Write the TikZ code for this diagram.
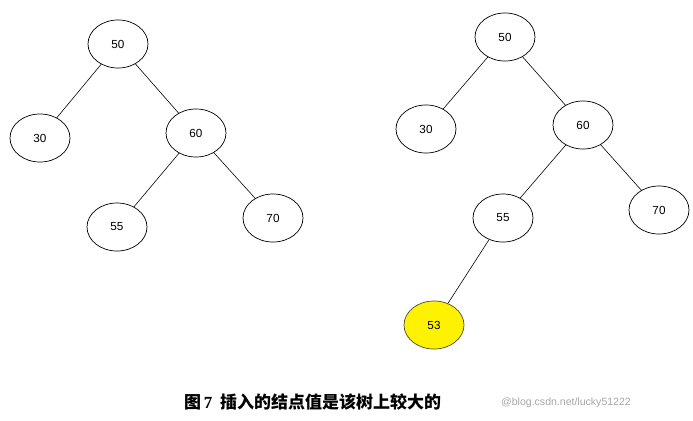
\documentclass[tikz,border=0pt]{standalone}
\usepackage{fontspec}
\setmainfont{Liberation Sans}
\newfontfamily\cjk{Noto Sans CJK SC}
\newfontfamily\capser{Liberation Serif}
\usetikzlibrary{shapes.geometric}
\begin{document}
\begin{tikzpicture}[x=0.03cm,y=-0.03cm,
  nd/.style={ellipse,draw=black,line width=0.6pt,minimum width=1.8cm,minimum height=1.44cm,inner sep=0pt,font=\fontsize{10}{12}\selectfont,fill=white},
  hl/.style={nd,fill=yellow,draw=black!80!yellow},
  ed/.style={draw=black,line width=0.5pt}]
\useasboundingbox (0,0) rectangle (693,421);
\node[nd] (a50) at (118,44) {50};
\node[nd] (a30) at (40,138) {30};
\node[nd] (a60) at (196,133) {60};
\node[nd] (a55) at (117,227) {55};
\node[nd] (a70) at (273,218) {70};
\draw[ed] (a50)--(a30); \draw[ed] (a50)--(a60);
\draw[ed] (a60)--(a55); \draw[ed] (a60)--(a70);
\node[nd] (b50) at (505,37) {50};
\node[nd] (b30) at (426,129) {30};
\node[nd] (b60) at (583,125) {60};
\node[nd] (b55) at (503,218) {55};
\node[nd] (b70) at (659,210) {70};
\node[hl] (b53) at (434,325) {53};
\draw[ed] (b50)--(b30); \draw[ed] (b50)--(b60);
\draw[ed] (b60)--(b55); \draw[ed] (b60)--(b70);
\draw[ed] (b55)--(b53);
\node[font=\cjk\bfseries\fontsize{14.5}{16}\selectfont,anchor=west] (cap) at (180,402) {图\,{\capser\bfseries 7}\ \ 插入的结点值是该树上较大的};
\node[font=\fontsize{9}{11}\selectfont,text=black!35,anchor=west] (wm) at (497,403) {@blog.csdn.net/lucky51222};
\end{tikzpicture}
\end{document}
